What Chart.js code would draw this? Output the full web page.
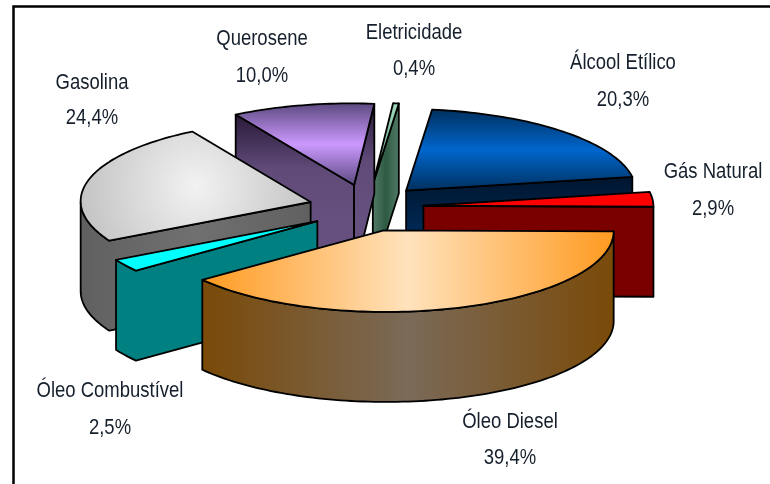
<!DOCTYPE html>
<html>
<head>
<meta charset="utf-8">
<script src="https://cdn.jsdelivr.net/npm/chart.js@4"></script>
<style>
  html, body { margin: 0; padding: 0; background: #fff; }
  canvas { display: block; }
</style>
</head>
<body>
<canvas id="chart" width="770" height="484"></canvas>
<script>
// Data
const categories = ['Álcool Etílico', 'Gás Natural', 'Óleo Diesel', 'Óleo Combustível', 'Gasolina', 'Querosene', 'Eletricidade'];
const shares = [20.3, 2.9, 39.4, 2.5, 24.4, 10.0, 0.4];

// Fill styles per slice: [direction, ...colour stops]
const topFills = [
  ['v', '#00305f', '#0066cc', '#00305f'],
  ['h', '#ff0000', '#ff0000'],
  ['h', '#ff9a20', '#ffe2bc', '#ff9a20'],
  ['h', '#00ffff', '#00ffff'],
  ['r', '#f2f2f2', '#c4c4c4'],
  ['v', '#5c4a80', '#cc99ff', '#5c4a80'],
  ['h', '#5f9f7f', '#a8e0c4']
];
const wallFills = [
  ['v', '#00152e', '#003c78'],
  ['h', '#7a0000', '#7a0000'],
  ['h', '#7a4a08', '#7a6a58', '#7a4a08'],
  ['h', '#008080', '#008080'],
  ['h', '#606060', '#707070', '#606060'],
  ['v', '#2a1a38', '#5f4a78', '#66507f', '#66507f'],
  ['h', '#507a65', '#2f5a42', '#507a65']
];

// Label placement: centre x and y of name line and value line
const labelSpots = [
  [623, 63, 100],
  [713, 172, 209],
  [510, 422, 458],
  [110, 391, 428],
  [92, 83, 118],
  [262, 39, 76],
  [414, 33, 69]
];

// The 3D look: tilted plane of the pie, as a skewed projection
const pieCentre = { x: 366, y: 208 };
const planeX = { x: 228.5, y: 10.1 };  // screen vector of one radius along canvas x
const planeY = { x: -26, y: 81 };      // same along canvas y
const explodeX = 0.25;
const explodeY = 0.29;
const depth = 90;
const textSqueeze = 0.84;

function project(cx, cy) {
  return {
    x: pieCentre.x + planeX.x * cx + planeY.x * cy,
    y: pieCentre.y + planeX.y * cx + planeY.y * cy
  };
}

function makeFill(ctx, spec, pts) {
  const xs = pts.map(p => p.x);
  const ys = pts.map(p => p.y);
  const x0 = Math.min(...xs), x1 = Math.max(...xs);
  const y0 = Math.min(...ys), y1 = Math.max(...ys);
  let g;
  if (spec[0] === 'v') {
    g = ctx.createLinearGradient(0, y0, 0, y1);
  } else if (spec[0] === 'h') {
    g = ctx.createLinearGradient(x0, 0, x1, 0);
  } else {
    const mx = (x0 + x1) / 2, my = (y0 + y1) / 2;
    g = ctx.createRadialGradient(mx, my, 0, mx, my, Math.max(x1 - x0, y1 - y0) / 2);
  }
  const stops = spec.slice(1);
  stops.forEach((c, i) => g.addColorStop(i / (stops.length - 1), c));
  return g;
}

function tracePoly(ctx, pts, fill) {
  ctx.beginPath();
  pts.forEach((p, i) => (i ? ctx.lineTo(p.x, p.y) : ctx.moveTo(p.x, p.y)));
  ctx.closePath();
  ctx.fillStyle = fill;
  ctx.fill();
  ctx.stroke();
}

function apexOf(arc) {
  const mid = (arc.startAngle + arc.endAngle) / 2;
  return { x: Math.cos(mid) * explodeX, y: Math.sin(mid) * explodeY };
}

// Outline of the top face of one arc element, clockwise on screen
function sliceOutline(arc) {
  const apex = apexOf(arc);
  const pts = [project(apex.x, apex.y)];
  const steps = Math.max(2, Math.ceil((arc.endAngle - arc.startAngle) * 40));
  for (let i = 0; i <= steps; i++) {
    const a = arc.startAngle + (arc.endAngle - arc.startAngle) * i / steps;
    pts.push(project(apex.x + Math.cos(a), apex.y + Math.sin(a)));
  }
  return pts;
}

// Walls hang from the stretches of outline that run right to left
function wallRuns(pts) {
  const runs = [];
  let run = null;
  for (let i = 0; i < pts.length; i++) {
    const p = pts[i];
    const q = pts[(i + 1) % pts.length];
    if (q.x < p.x) {
      if (!run) { run = [p]; runs.push(run); }
      run.push(q);
    } else {
      run = null;
    }
  }
  return runs;
}

const pie3d = {
  id: 'pie3d',
  beforeDatasetDraw(chart, args) {
    const ctx = chart.ctx;
    const arcs = chart.getDatasetMeta(args.index).data;
    const order = arcs.map((arc, i) => {
      const apex = apexOf(arc);
      return { i, arc, apexY: project(apex.x, apex.y).y };
    }).sort((a, b) => a.apexY - b.apexY);

    ctx.save();
    ctx.strokeStyle = '#000';
    ctx.lineWidth = 1.8;
    ctx.lineJoin = 'round';
    order.forEach(({ i, arc }) => {
      const outline = sliceOutline(arc);
      wallRuns(outline).forEach(run => {
        const wall = run.concat(run.slice().reverse().map(p => ({ x: p.x, y: p.y + depth })));
        tracePoly(ctx, wall, makeFill(ctx, wallFills[i], wall));
      });
      tracePoly(ctx, outline, makeFill(ctx, topFills[i], outline));
    });
    ctx.restore();
    return false;
  },
  afterDraw(chart) {
    const ctx = chart.ctx;
    ctx.save();
    // frame of the original figure
    ctx.strokeStyle = '#000';
    ctx.lineWidth = 2.5;
    ctx.beginPath();
    ctx.moveTo(13.5, 484);
    ctx.lineTo(13.5, 6.5);
    ctx.lineTo(770, 6.5);
    ctx.stroke();
    // labels
    ctx.fillStyle = '#16202c';
    ctx.font = '22px "Liberation Sans", sans-serif';
    ctx.textAlign = 'center';
    ctx.textBaseline = 'middle';
    const drawLabel = (text, x, y) => {
      ctx.save();
      ctx.translate(x, y);
      ctx.scale(textSqueeze, 1);
      ctx.fillText(text, 0, 0);
      ctx.restore();
    };
    categories.forEach((name, i) => {
      const [x, y1, y2] = labelSpots[i];
      drawLabel(name, x, y1);
      drawLabel(shares[i].toFixed(1).replace('.', ',') + '%', x, y2);
    });
    ctx.restore();
  }
};

new Chart(document.getElementById('chart').getContext('2d'), {
  type: 'pie',
  data: {
    labels: categories,
    datasets: [{ data: shares, backgroundColor: topFills.map(f => f[1]) }]
  },
  options: {
    responsive: false,
    animation: false,
    events: [],
    plugins: { legend: { display: false }, tooltip: { enabled: false } }
  },
  plugins: [pie3d]
});
</script>
</body>
</html>
